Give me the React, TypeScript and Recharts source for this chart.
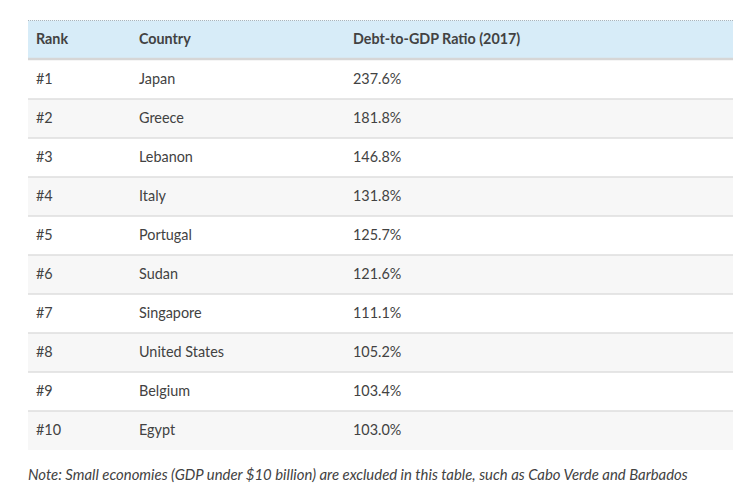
import React from "react";
import { ComposedChart, Bar, XAxis, YAxis, Customized } from "recharts";

const ranks = ["#1", "#2", "#3", "#4", "#5", "#6", "#7", "#8", "#9", "#10"];
const countries = ["Japan", "Greece", "Lebanon", "Italy", "Portugal", "Sudan", "Singapore", "United States", "Belgium", "Egypt"];
const ratios = [237.6, 181.8, 146.8, 131.8, 125.7, 121.6, 111.1, 105.2, 103.4, 103.0];
const headers = ["Rank", "Country", "Debt-to-GDP Ratio (2017)"];
const note = "Note: Small economies (GDP under $10 billion) are excluded in this table, such as Cabo Verde and Barbados";

const data = ranks.map((r, i) => ({ rank: r, country: countries[i], ratio: ratios[i] }));

const FONT = "Lato, 'Open Sans', sans-serif";
const TEXT = "#424242";
const COLS = [8, 111, 325];
const W = 749;
const H = 493;
const M = { top: 60, right: 16, bottom: 43, left: 28 };

const RowBackground = (props: any) => {
  const { x, y, width, height, index } = props;
  return (
    <g>
      <rect x={x} y={y} width={width} height={height} fill={index % 2 === 1 ? "#f7f7f7" : "#ffffff"} />
      {index > 0 && <line x1={x} x2={x + width} y1={y} y2={y} stroke="#dedede" strokeWidth={1.5} />}
    </g>
  );
};

const RowCells = (props: any) => {
  const { x, y, height, payload } = props;
  const cy = y + height / 2;
  const cells = [payload.rank, payload.country, `${payload.ratio.toFixed(1)}%`];
  return (
    <g>
      {cells.map((c, i) => (
        <text key={i} x={x + COLS[i]} y={cy} dy="0.3em" fontFamily={FONT} fontSize={14.4} fill={TEXT}>
          {c}
        </text>
      ))}
    </g>
  );
};

const Header = () => {
  const x0 = M.left;
  const x1 = W - M.right;
  return (
    <g>
      <rect x={x0} y={20.5} width={x1 - x0} height={M.top - 20.5} fill="#d7ecf8" />
      <line x1={x0} x2={x1} y1={20.5} y2={20.5} stroke="#a9b4bb" strokeWidth={1} strokeDasharray="1 1" />
      <line x1={x0} x2={x1} y1={M.top - 1} y2={M.top - 1} stroke="#d6d6d6" strokeWidth={2.5} />
      {headers.map((h, i) => (
        <text key={i} x={x0 + COLS[i]} y={40} dy="0.3em" fontFamily={FONT} fontSize={14.3} fontWeight="bold" fill={TEXT}>
          {h}
        </text>
      ))}
      <text x={x0} y={475} dy="0.32em" fontFamily={FONT} fontSize={14.9} fontStyle="italic" fill={TEXT}>
        {note}
      </text>
    </g>
  );
};

export default function App() {
  return (
    <div style={{ position: "absolute", left: 0, top: 0, width: W, height: H, background: "#fff" }}>
      <ComposedChart width={W} height={H} data={data} layout="vertical" margin={M} barCategoryGap={0}>
        <XAxis type="number" domain={[0, 300]} hide />
        <YAxis type="category" dataKey="rank" hide />
        <Bar dataKey="ratio" isAnimationActive={false} background={RowBackground} shape={RowCells} />
        <Customized component={Header} />
      </ComposedChart>
    </div>
  );
}
